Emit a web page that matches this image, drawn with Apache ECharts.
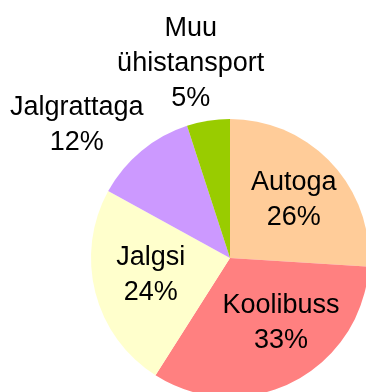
<!DOCTYPE html>
<html>
<head>
<meta charset="utf-8">
<script src="https://cdn.jsdelivr.net/npm/echarts@6/dist/echarts.min.js"></script>
<style>
  html, body { margin: 0; padding: 0; background: #ffffff; }
  #chart { width: 366px; height: 392px; }
</style>
</head>
<body>
<div id="chart"></div>
<script>
// Travel mode shares (%), clockwise from 12 o'clock
const categories = ['Autoga', 'Koolibuss', 'Jalgsi', 'Jalgrattaga', 'Muu\nühistansport'];
const shares = [26, 33, 24, 12, 5];

// Slice colours, in category order
const sliceColors = ['#FFCC99', '#FF8080', '#FFFFCC', '#CC99FF', '#99CC00'];

// Label nudges from the default inside position (px), in category order
const labelNudge = [
  [11, -8],
  [18, 0],
  [-9, -1],
  [-107, -77],
  [-28, -123]
];

const chart = echarts.init(document.getElementById('chart'), null, { renderer: 'canvas' });

chart.setOption({
  animation: false,
  backgroundColor: '#ffffff',
  series: [{
    type: 'pie',
    center: [230, 258],
    radius: [0, 139],
    startAngle: 90,
    clockwise: true,
    avoidLabelOverlap: false,
    itemStyle: { borderWidth: 0 },
    emphasis: { disabled: true },
    label: {
      show: true,
      position: 'inside',
      formatter: p => p.name + '\n' + p.value + '%',
      fontFamily: 'Liberation Sans, Arial, sans-serif',
      fontSize: 27,
      lineHeight: 35,
      color: '#000000',
      align: 'center'
    },
    labelLine: { show: false },
    labelLayout: p => ({ dx: labelNudge[p.dataIndex][0], dy: labelNudge[p.dataIndex][1] }),
    data: categories.map((name, i) => ({
      name: name,
      value: shares[i],
      itemStyle: { color: sliceColors[i] }
    }))
  }]
});
</script>
</body>
</html>
